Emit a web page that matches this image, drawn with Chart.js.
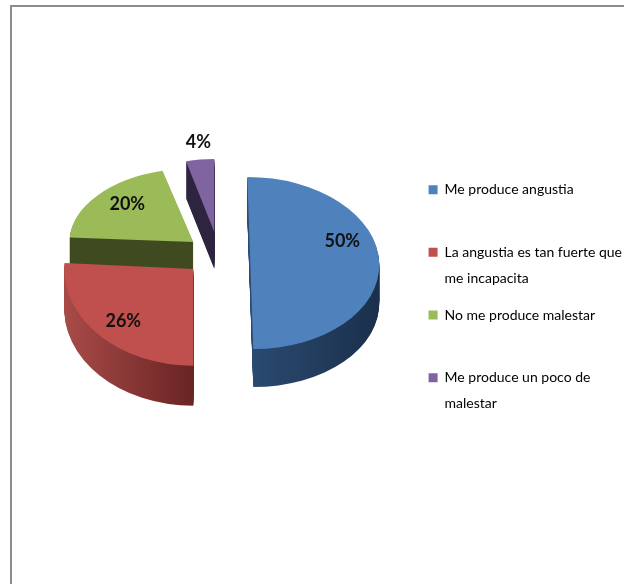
<!DOCTYPE html>
<html>
<head>
<meta charset="utf-8">
<script src="https://cdn.jsdelivr.net/npm/chart.js@4/dist/chart.umd.min.js"></script>
<style>
  body { margin: 0; background: #fff; overflow: hidden; }
  #wrap { position: relative; width: 624px; height: 584px; }
  #frame { position: absolute; left: 10px; top: 5px; width: 640px; height: 640px; border: 2px solid #8c8c8c; box-sizing: border-box; }
  #pie { filter: blur(0.5px); }
</style>
</head>
<body>
<div id="wrap">
  <div id="frame"></div>
  <canvas id="pie" width="624" height="584"></canvas>
</div>
<script>
const labels = [
    'Me produce angustia',
    'La angustia es tan fuerte que me incapacita',
    'No me produce malestar',
    'Me produce un poco de malestar'
];
const legendLines = [
    ['Me produce angustia', ''],
    ['La angustia es tan fuerte que', 'me incapacita'],
    ['No me produce malestar', ''],
    ['Me produce un poco de', 'malestar']
];
const values = [50, 26, 20, 4];
const colors = ['#4f81bd', '#c0504d', '#9bbb59', '#8064a2'];
const wallLeft = ['#2a4a70', '#a84b48', '#3f4a20', '#2f2440'];
const wallRight = ['#1a2f4b', '#692424', '#3f4a20', '#2f2440'];

// look of the 3d exploded pie, per slice
const drawOrder = [3, 2, 0, 1];
const shiftX = [41, -16, -16, 5];
const shiftY = [-40, -34, -61, -71];
const scaleX = [1, 1, 0.96, 0.88];
const scaleY = [0.667, 0.75, 0.57, 0.566];
const lean = [0.035, 0, 0, 0];
const wallDepth = [38, 40, 28, 37];
const labelDx = [92, -70, -66, -16];
const labelDy = [-22, 52, -38, -90];

function placeSlice(ctx, arc, i, dy) {
    ctx.translate(arc.x + shiftX[i], arc.y + shiftY[i] + dy);
    ctx.transform(1, 0, lean[i], 1, 0, 0);
    ctx.scale(scaleX[i], scaleY[i]);
    ctx.translate(-arc.x, -arc.y);
}

function sliceWall(ctx, arc, i) {
    const r = arc.outerRadius;
    const grad = i === 0
        ? ctx.createLinearGradient(arc.x, 0, arc.x + r, 0)
        : ctx.createLinearGradient(arc.x - r, 0, arc.x, 0);
    grad.addColorStop(0, wallLeft[i]);
    grad.addColorStop(1, wallRight[i]);
    return grad;
}

const pie3d = {
    id: 'pie3d',
    beforeDatasetDraw(chart, args) {
        const ctx = chart.ctx;
        const arcs = args.meta.data;
        drawOrder.forEach(i => {
            const arc = arcs[i];
            const top = arc.options;
            arc.options = Object.assign({}, top, { backgroundColor: sliceWall(ctx, arc, i) });
            for (let d = wallDepth[i]; d > 0; d--) {
                ctx.save();
                placeSlice(ctx, arc, i, d);
                arc.draw(ctx);
                ctx.restore();
            }
            arc.options = top;
            ctx.save();
            placeSlice(ctx, arc, i, 0);
            arc.draw(ctx);
            ctx.restore();
        });
        return false;
    },
    afterDatasetsDraw(chart) {
        const ctx = chart.ctx;
        const arcs = chart.getDatasetMeta(0).data;
        ctx.save();
        ctx.fillStyle = '#111';
        ctx.font = 'bold 18px Lato';
        ctx.textAlign = 'center';
        ctx.textBaseline = 'middle';
        values.forEach((v, i) => {
            ctx.fillText(v + '%', arcs[i].x + shiftX[i] + labelDx[i], arcs[i].y + shiftY[i] + labelDy[i]);
        });
        ctx.restore();
    }
};

new Chart(document.getElementById('pie'), {
    type: 'pie',
    data: {
        labels: labels,
        datasets: [{
            data: values,
            backgroundColor: colors,
            borderWidth: 0,
            radius: 129
        }]
    },
    plugins: [pie3d],
    options: {
        responsive: false,
        animation: false,
        layout: { padding: { top: 22, right: -8 } },
        plugins: {
            tooltip: { enabled: false },
            legend: {
                position: 'right',
                labels: {
                    font: { family: 'Lato', size: 14, lineHeight: 1.88 },
                    color: '#1a1a1a',
                    boxWidth: 9,
                    boxHeight: 9,
                    padding: 10,
                    generateLabels() {
                        return legendLines.map((text, i) => ({
                            text: text,
                            fillStyle: colors[i],
                            strokeStyle: colors[i],
                            lineWidth: 0,
                            index: i
                        }));
                    }
                }
            }
        }
    }
});
</script>
</body>
</html>
